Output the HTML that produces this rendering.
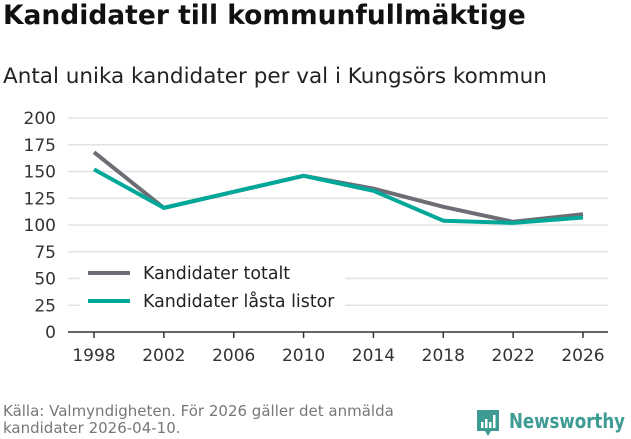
<!DOCTYPE html>
<html><head><meta charset="utf-8"><style>
body{margin:0;width:631px;height:439px;background:#fff;font-family:"DejaVu Sans","Liberation Sans",sans-serif;overflow:hidden;position:relative}
#t{position:absolute;left:3px;top:0px;font-size:26.5px;font-weight:bold;color:#111}
#s{position:absolute;left:3px;top:64px;font-size:21.5px;color:#222}
#src{position:absolute;left:3px;top:403px;font-size:15px;color:#777;line-height:17px}
#logo{position:absolute;left:476px;top:407px}
</style></head><body>
<div id="t">Kandidater till kommunfullmäktige</div>
<div id="s">Antal unika kandidater per val i Kungsörs kommun</div>
<svg id="chart" width="631" height="439" style="position:absolute;left:0;top:0"></svg>
<div id="src">Källa: Valmyndigheten. För 2026 gäller det anmälda<br>kandidater 2026-04-10.</div>
<svg id="logo" width="155" height="32">
<path d="M1 3h22v21h-8l-3 5-3-5H1z" fill="#3e9b94"/>
<rect x="5" y="15" width="2.5" height="6" fill="#fff"/><rect x="9" y="12" width="2.5" height="9" fill="#fff"/><rect x="13" y="15" width="2.5" height="6" fill="#fff"/><rect x="17" y="8" width="2.5" height="13" fill="#fff"/>
<text x="33" y="21" font-size="20" font-weight="bold" fill="#3e9b94" textLength="116" lengthAdjust="spacingAndGlyphs" font-family="DejaVu Sans, sans-serif">Newsworthy</text>
</svg>
<script>
const years=[1998,2002,2006,2010,2014,2018,2022,2026];
const totalt=[168,116,131,146,134,117,103,110];
const lasta=[152,116,131,146,132,104,102,107];
const yTicks=[0,25,50,75,100,125,150,175,200];
const NS="http://www.w3.org/2000/svg";
const svg=document.getElementById('chart');
const x=v=>94+(v-1998)/28*489;
const y=v=>332-v/200*214;
function mk(t,a){const e=document.createElementNS(NS,t);for(const k in a)e.setAttribute(k,a[k]);svg.appendChild(e);return e;}
yTicks.forEach(v=>{
 if(v>0){const g=mk('line',{x1:68,x2:608,y1:y(v),y2:y(v),stroke:'#e3e3e3','stroke-width':1.5});
 
 }
 const t=mk('text',{x:56,y:y(v)+6,'text-anchor':'end','font-size':17,fill:'#333'});t.textContent=v;
 
 
});
const ax=mk('line',{x1:68,x2:608,y1:332,y2:332,stroke:'#333','stroke-width':1.5});


years.forEach(v=>{
 const k=mk('line',{x1:x(v),x2:x(v),y1:332,y2:338,stroke:'#333','stroke-width':1.5});
 
 
 const t=mk('text',{x:x(v),y:361,'text-anchor':'middle','font-size':17,fill:'#333'});t.textContent=v;
 
 
});
function line(d,c,n){const p=mk('polyline',{points:d.map((v,i)=>x(years[i])+','+y(v)).join(' '),fill:'none',stroke:c,'stroke-width':4,'stroke-linejoin':'round'});
 
 }
line(totalt,'#6e6d75','line-kandidater-totalt');
line(lasta,'#00a89a','line-kandidater-lasta-listor');
const bg=mk('rect',{x:80,y:258,width:265,height:60,fill:'#fff'});


[['Kandidater totalt','#6e6d75',273],['Kandidater låsta listor','#00a89a',301]].forEach(([l,c,yy])=>{
 const s=mk('line',{x1:88,x2:130,y1:yy,y2:yy,stroke:c,'stroke-width':4});
 
 
 const t=mk('text',{x:143,y:yy+6,'font-size':17.4,fill:'#222'});t.textContent=l;
 
 
});
</script>
</body></html>
